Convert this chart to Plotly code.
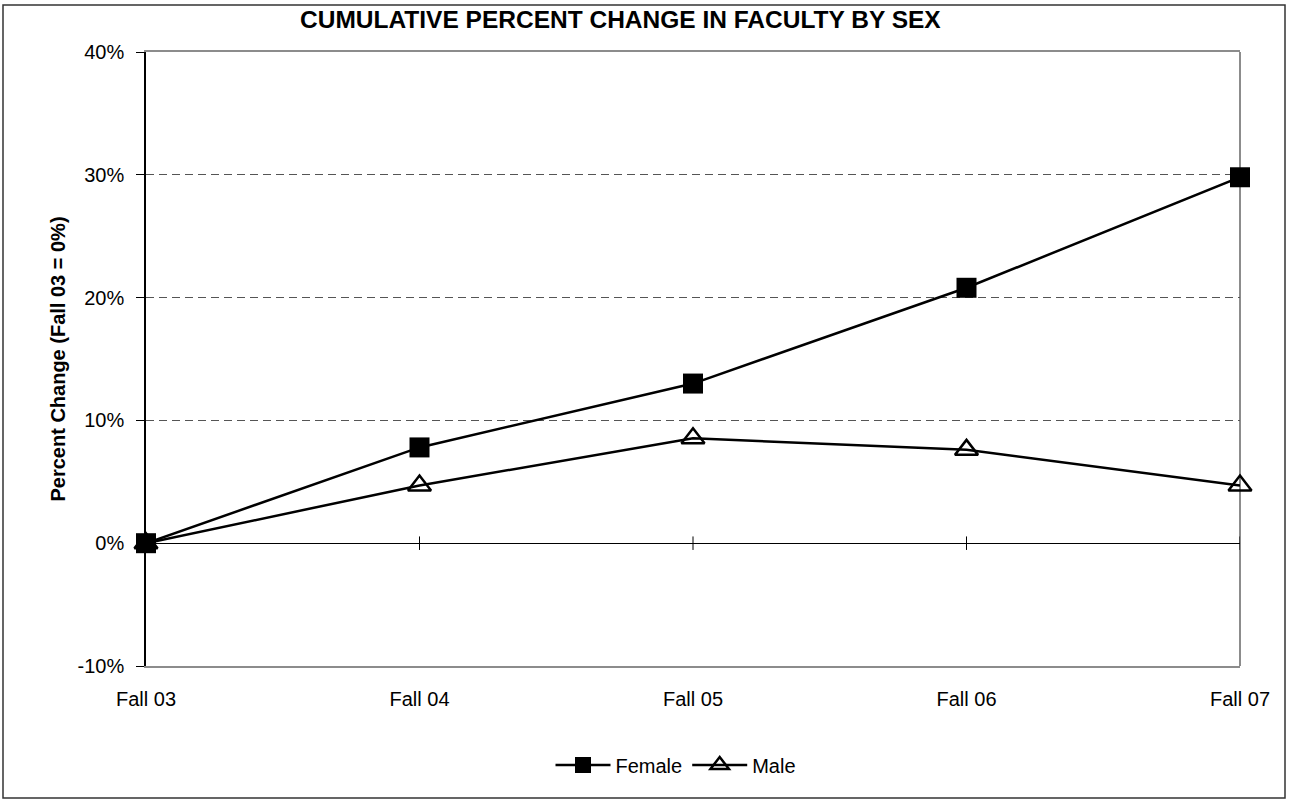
import plotly.graph_objects as go

categories = ["Fall 03", "Fall 04", "Fall 05", "Fall 06", "Fall 07"]
female = [0.0, 7.8, 13.0, 20.8, 29.8]
male = [0.0, 4.7, 8.55, 7.6, 4.7]
y_ticks = [-10, 0, 10, 20, 30, 40]
y_ticktext = ["-10%", "0%", "10%", "20%", "30%", "40%"]

xpos = list(range(len(categories)))
FONT = "Liberation Sans, Arial, sans-serif"

fig = go.Figure()
fig.add_trace(go.Scatter(
    x=xpos, y=female, name="Female", mode="lines+markers", cliponaxis=False,
    line=dict(color="black", width=2.5),
    marker=dict(symbol="square", size=20, color="black", line=dict(width=0)),
))
fig.add_trace(go.Scatter(
    x=xpos, y=male, name="Male", mode="lines+markers", cliponaxis=False,
    line=dict(color="black", width=2.5),
    marker=dict(symbol="triangle-up-open", size=20, color="black", line=dict(width=2.5, color="black")),
))

shapes = []
# zero-line tick marks crossing the x axis
for xv in xpos[1:]:
    shapes.append(dict(type="line", xref="x", yref="y", x0=xv, x1=xv, y0=-0.55, y1=0.55,
                       line=dict(color="black", width=1), layer="above"))
# right edge of plot area (gray)
shapes.append(dict(type="line", xref="paper", yref="paper", x0=1, x1=1, y0=0, y1=1,
                   line=dict(color="#8c8c8c", width=2), layer="below"))
# outer chart border
shapes.append(dict(type="rect", xref="paper", yref="paper",
                   x0=(3 - 146) / 1094, x1=(1285 - 146) / 1094,
                   y0=(666 - 798) / 614, y1=(666 - 5) / 614,
                   line=dict(color="#333333", width=1.5), fillcolor="rgba(0,0,0,0)"))

fig.update_layout(
    width=1289, height=800,
    margin=dict(l=146, r=49, t=52, b=134),
    paper_bgcolor="white", plot_bgcolor="white",
    font=dict(family=FONT, size=20, color="black"),
    showlegend=True,
    legend=dict(orientation="h", x=(676 - 146) / 1094, xanchor="center",
                y=(666 - 765) / 614, yanchor="middle",
                font=dict(size=20, family=FONT), itemwidth=55, tracegroupgap=0),
    shapes=shapes,
    annotations=[dict(text="<b>CUMULATIVE PERCENT CHANGE IN FACULTY BY SEX</b>",
                      xref="paper", yref="paper", x=(620 - 146) / 1094, y=(666 - 20) / 614,
                      xanchor="center", yanchor="middle", showarrow=False,
                      font=dict(size=24.5, family=FONT, color="black"))],
)

fig.update_xaxes(
    range=[0, 4], tickvals=xpos, ticktext=categories,
    showline=True, linecolor="#8c8c8c", linewidth=2, mirror=True,
    showgrid=False, zeroline=False,
    ticks="outside", ticklen=14, tickcolor="rgba(0,0,0,0)",
    tickfont=dict(size=20, family=FONT, color="black"),
)
fig.update_yaxes(
    range=[-10, 40], tickvals=y_ticks, ticktext=y_ticktext,
    showline=True, linecolor="black", linewidth=1.5, mirror=False,
    showgrid=True, gridcolor="#555555", griddash="8px,5px", gridwidth=1,
    zeroline=True, zerolinecolor="black", zerolinewidth=1,
    ticks="outside", ticklen=8, tickcolor="black", ticklabelstandoff=8,
    tickfont=dict(size=20, family=FONT, color="black"),
    title=dict(text="<b>Percent Change (Fall 03 = 0%)</b>", font=dict(size=20, family=FONT), standoff=7),
)

fig.write_html("out.html", config={"displayModeBar": False},
               post_script="document.body.style.margin='0';document.body.style.padding='0';")
